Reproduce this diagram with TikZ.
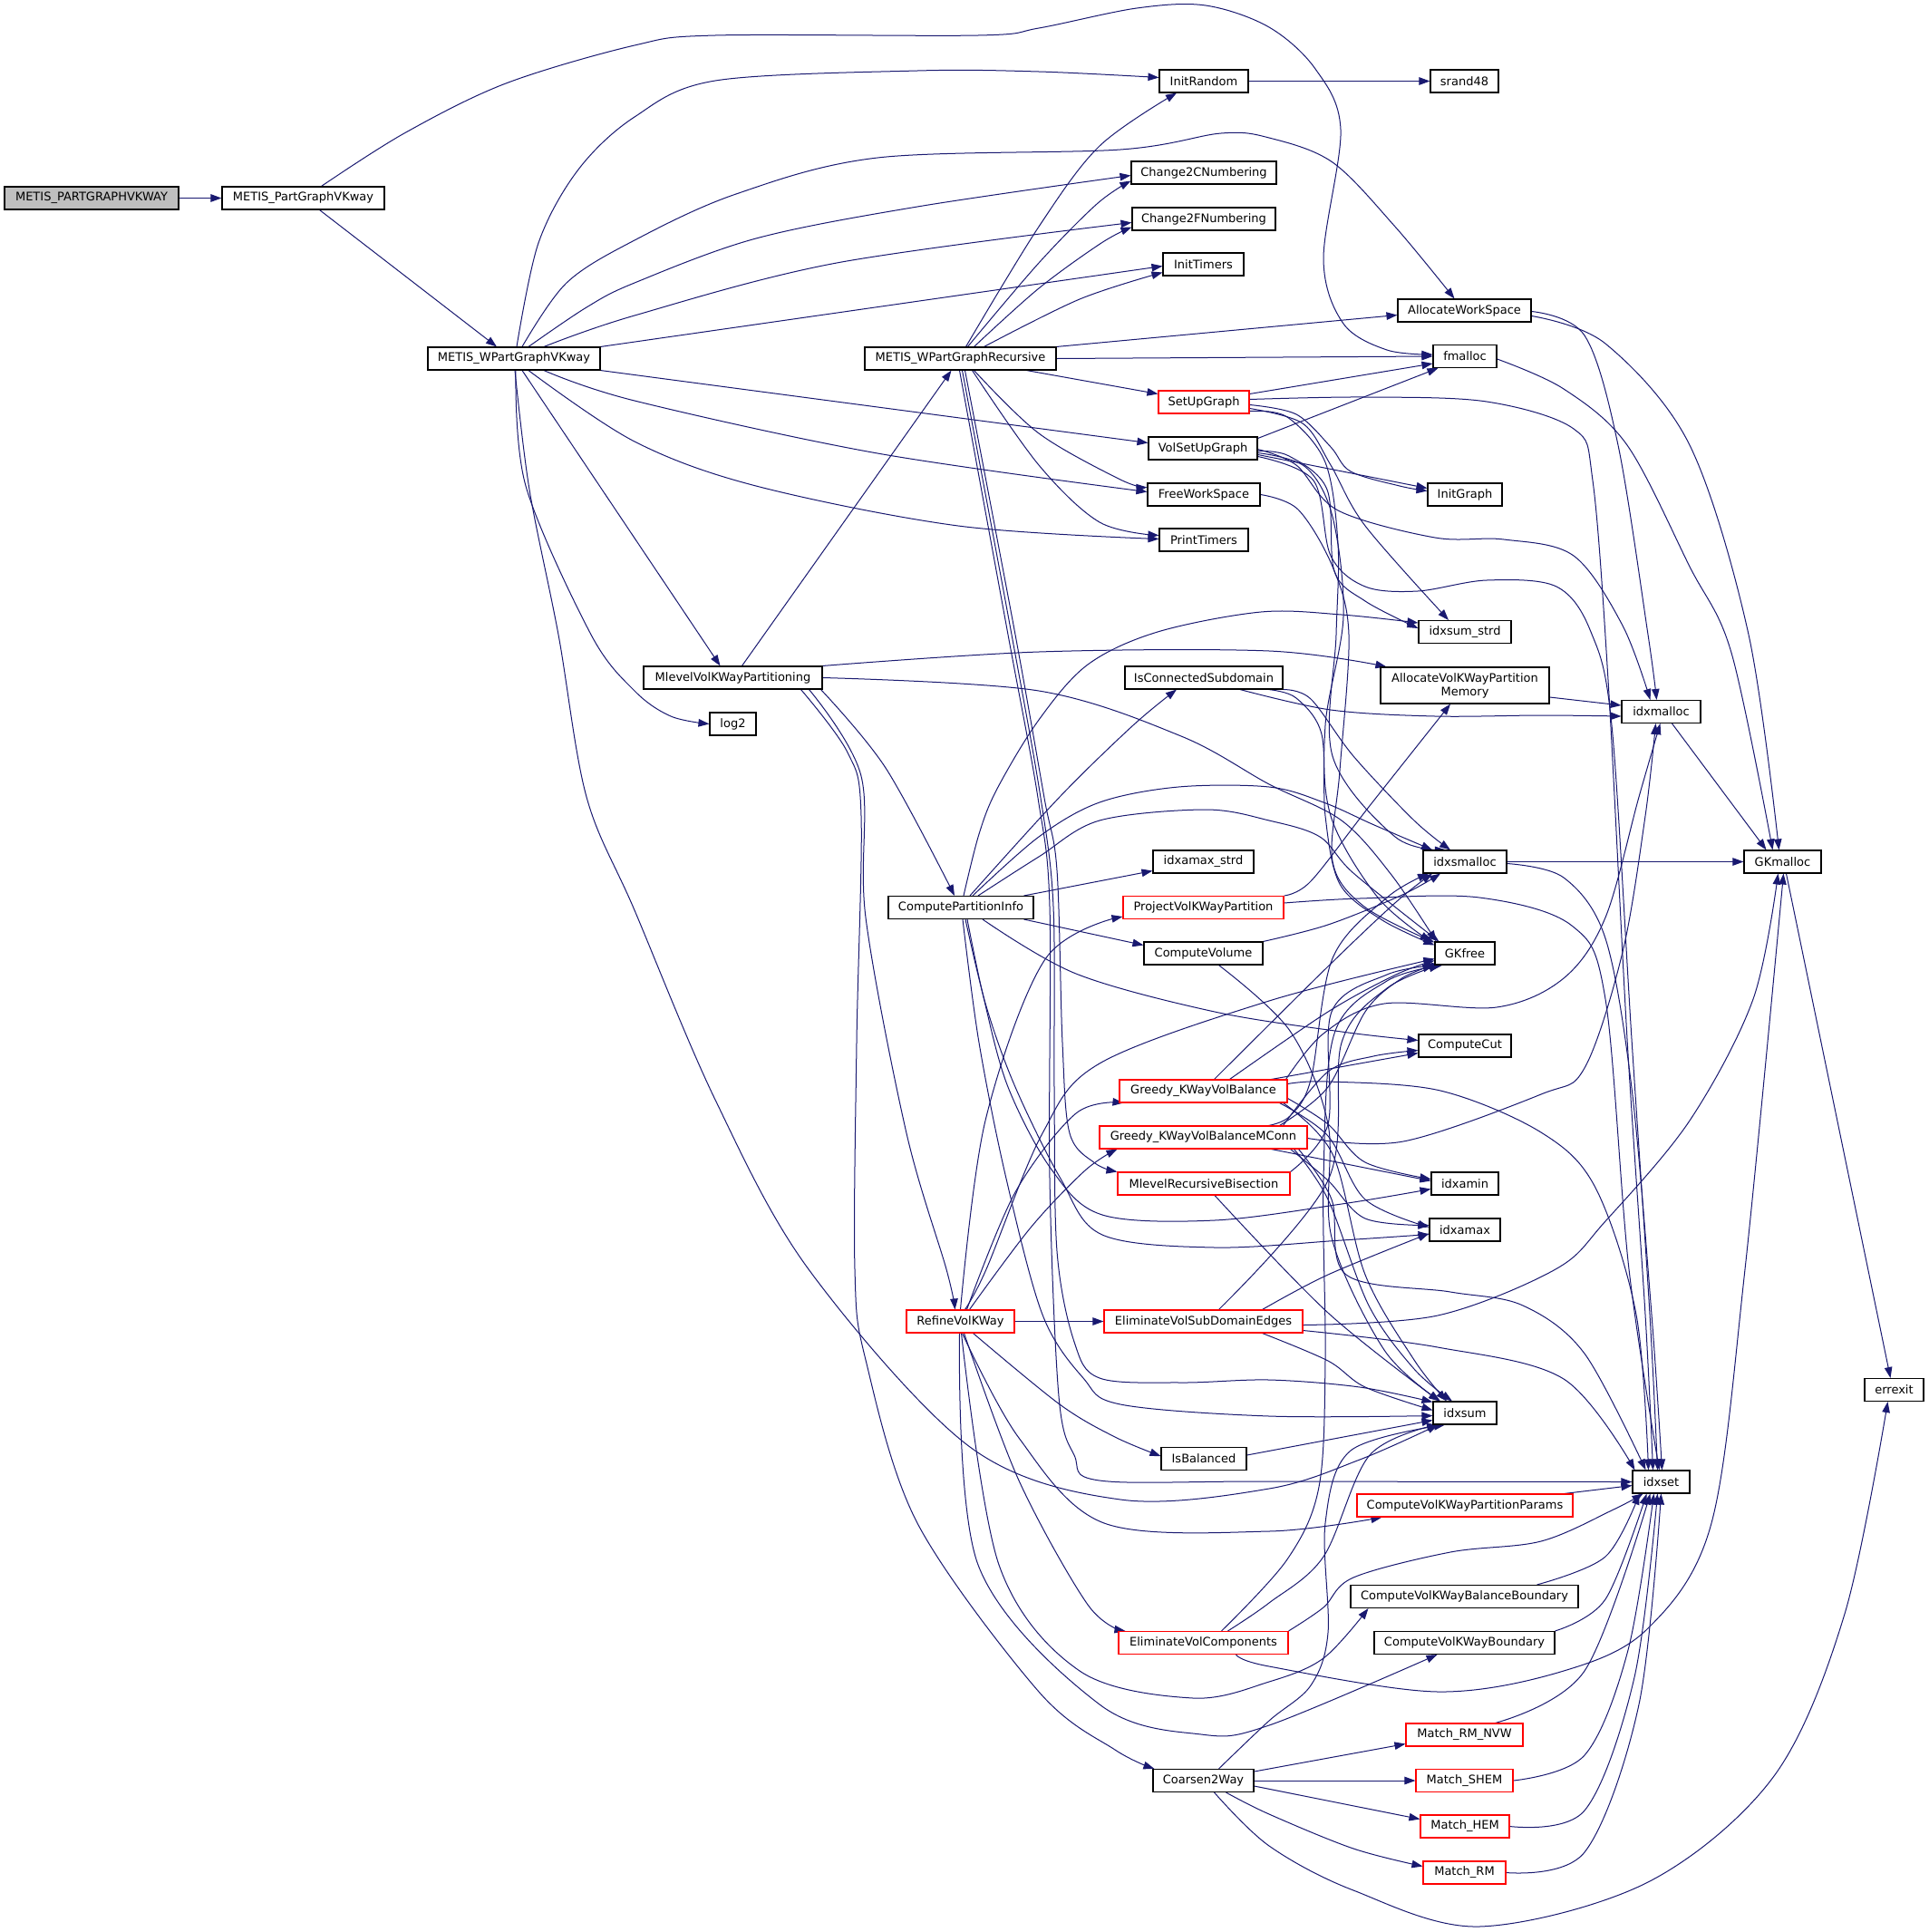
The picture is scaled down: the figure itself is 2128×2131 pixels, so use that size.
\documentclass[tikz,border=0pt]{standalone}
\usepackage{fontspec}
\setmainfont{DejaVu Sans}
\usetikzlibrary{arrows.meta}
\pgfdeclarelayer{background}
\pgfsetlayers{background,main}
\definecolor{edgec}{HTML}{191970}
\definecolor{redc}{HTML}{FF0000}
\definecolor{grayc}{HTML}{BFBFBF}
\tikzset{
  box/.style={draw=black, line width=1.1pt, fill=white, inner sep=0pt, minimum height=25pt,
    font=\fontsize{13}{15}\selectfont, align=center},
  rbox/.style={box, draw=redc},
  edge/.style={draw=edgec, line width=1pt, -{Triangle[length=12pt,width=8.5pt]}},
}
\newcommand\myedge[1]{\draw[edge] plot[smooth,tension=0.55] coordinates {#1};}
\begin{document}
\begin{tikzpicture}[x=1pt,y=-1pt]
\useasboundingbox (0,0) rectangle (2128,2131);
% nodes
\node[box, fill=grayc, minimum width=192pt] (n0) at (101,218.5) {METIS\_PARTGRAPHVKWAY};
\node[box, minimum width=179pt] (n1) at (334.5,218.5) {METIS\_PartGraphVKway};
\node[box, minimum width=190pt] (n2) at (567,395.5) {METIS\_WPartGraphVKway};
\node[box, minimum width=98pt] (initr) at (1328,89.5) {InitRandom};
\node[box, minimum width=75pt] (srand) at (1615.5,89.5) {srand48};
\node[box, minimum width=160pt] (c2c) at (1328,190.5) {Change2CNumbering};
\node[box, minimum width=158pt] (c2f) at (1328,241.5) {Change2FNumbering};
\node[box, minimum width=89pt] (inittm) at (1327.5,291.5) {InitTimers};
\node[box, minimum width=147pt] (aws) at (1615.5,342.5) {AllocateWorkSpace};
\node[box, minimum width=211pt] (rec) at (1059.5,395.5) {METIS\_WPartGraphRecursive};
\node[box, minimum width=70pt] (fmal) at (1616,393) {fmalloc};
\node[rbox, minimum width=100pt] (sug) at (1328,443.5) {SetUpGraph};
\node[box, minimum width=120pt] (vsug) at (1327,494.5) {VolSetUpGraph};
\node[box, minimum width=124pt] (fws) at (1328,545.5) {FreeWorkSpace};
\node[box, minimum width=82pt] (initg) at (1616,545.5) {InitGraph};
\node[box, minimum width=98pt] (prt) at (1328,595.5) {PrintTimers};
\node[box, minimum width=102pt] (isums) at (1616,697) {idxsum\_strd};
\node[box, minimum width=197pt] (mvk) at (808.5,747.5) {MlevelVolKWayPartitioning};
\node[box, minimum width=174pt] (icon) at (1328,747.5) {IsConnectedSubdomain};
\node[box, minimum width=186pt, minimum height=40pt] (avkpm) at (1616,756) {AllocateVolKWayPartition\\Memory};
\node[box, minimum width=87pt] (imal) at (1832.5,785) {idxmalloc};
\node[box, minimum width=51pt] (log2) at (808.5,798.5) {log2};
\node[box, minimum width=111pt] (iamaxs) at (1327.5,950.5) {idxamax\_strd};
\node[box, minimum width=92pt] (ismal) at (1616,950.5) {idxsmalloc};
\node[box, minimum width=85pt] (gkmal) at (1966.5,950.5) {GKmalloc};
\node[box, minimum width=160pt] (cpi) at (1060,1001) {ComputePartitionInfo};
\node[rbox, minimum width=177pt] (pvkp) at (1327.5,1001) {ProjectVolKWayPartition};
\node[box, minimum width=131pt] (cvol) at (1327.5,1051.5) {ComputeVolume};
\node[box, minimum width=66pt] (gkfree) at (1616,1051.5) {GKfree};
\node[box, minimum width=102pt] (ccut) at (1616,1153.5) {ComputeCut};
\node[rbox, minimum width=185pt] (gvb) at (1327.5,1203.5) {Greedy\_KWayVolBalance};
\node[rbox, minimum width=229pt] (gvbm) at (1327.5,1254.5) {Greedy\_KWayVolBalanceMConn};
\node[rbox, minimum width=190pt] (mrb) at (1328,1305.5) {MlevelRecursiveBisection};
\node[box, minimum width=74pt] (iamin) at (1616,1305.5) {idxamin};
\node[box, minimum width=78pt] (iamax) at (1616,1356.5) {idxamax};
\node[rbox, minimum width=119pt] (rvk) at (1059.5,1457.5) {RefineVolKWay};
\node[rbox, minimum width=219pt] (evsde) at (1327.5,1457.5) {EliminateVolSubDomainEdges};
\node[box, minimum width=65pt] (errexit) at (2089.5,1533) {errexit};
\node[box, minimum width=70pt] (isum) at (1616,1558.5) {idxsum};
\node[box, minimum width=94pt] (isbal) at (1328,1609) {IsBalanced};
\node[box, minimum width=63pt] (iset) at (1832.5,1634.5) {idxset};
\node[rbox, minimum width=238pt] (cvkpp) at (1616,1660.5) {ComputeVolKWayPartitionParams};
\node[box, minimum width=251pt] (cvkbb) at (1615.5,1761) {ComputeVolKWayBalanceBoundary};
\node[rbox, minimum width=187pt] (evc) at (1327.5,1812) {EliminateVolComponents};
\node[box, minimum width=199pt] (cvkb) at (1615.5,1812) {ComputeVolKWayBoundary};
\node[rbox, minimum width=129pt] (mnvw) at (1615.5,1913.5) {Match\_RM\_NVW};
\node[box, minimum width=111pt] (c2w) at (1327.5,1964) {Coarsen2Way};
\node[rbox, minimum width=107pt] (mshem) at (1615.5,1964) {Match\_SHEM};
\node[rbox, minimum width=98pt] (mhem) at (1616,2014.5) {Match\_HEM};
\node[rbox, minimum width=91pt] (mrm) at (1615.5,2065.5) {Match\_RM};

\begin{pgfonlayer}{background}
% top chain
\draw[edge] (n0.east) -- (n1.west);
\draw[edge] ([xshift=18pt]n1.south) -- ([xshift=-19pt]n2.north);
\myedge{([xshift=20pt]n1.north) (446,147) (558,92) (700,50) (789,39) (1079,39) (1146,31) (1254,9) (1330,6) (1400,30) (1451,76) (1479,143) (1460,286) (1482,357) (1530,386) ([yshift=2pt]fmal.west)}
% from METIS_WPartGraphVKway
\myedge{([xshift=3pt]n2.north) (594,268) (638,187) (700,129) (789,89) (1012,78) (1146,79) ([yshift=4pt]initr.west)}
\myedge{([xshift=9pt]n2.north) (625,312) (700,265) (812,214) (968,174) (1236,165) (1347,147) (1400,152) (1470,179) (1539,250) ([xshift=-11pt]aws.north)}
\myedge{([xshift=16pt]n2.north) (647,339) (700,312) (834,263) (1012,228) ([yshift=-3pt]c2c.west)}
\myedge{([xshift=33pt]n2.north) (700,348) (923,290) ([yshift=-4pt]c2f.west)}
\draw[edge] (n2.north east) -- ([yshift=-2pt]inittm.west);
\draw[edge] (n2.south east) -- ([yshift=6pt]vsug.west);
\myedge{([xshift=33pt]n2.south) (700,442) (968,500) ([yshift=3pt]fws.west)}
\myedge{([xshift=16pt]n2.south) (700,487) (834,536) (1057,580) ([yshift=1pt]prt.west)}
\draw[edge] ([xshift=9pt]n2.south) -- ([xshift=-14pt]mvk.north);
\myedge{([xshift=2pt]n2.south) (580,536) (652,700) (700,762) (740,790) (log2.west)}
\myedge{([xshift=1pt]n2.south) (584,540) (616,700) (647,879) (700,1004) (789,1213) (892,1400) (1070,1596) (1236,1654) (1400,1642) (1500,1610) ([xshift=6pt]isum.south west)}
% from METIS_WPartGraphRecursive
\myedge{([xshift=6pt]rec.north) (1146,250) (1213,161) ([xshift=-30pt]initr.south)}
\myedge{([xshift=8pt]rec.north) (1146,290) (1210,225) ([yshift=-9pt]c2c.west)}
\myedge{([xshift=15pt]rec.north) (1146,318) (1215,268) ([yshift=-9pt]c2f.west)}
\myedge{([xshift=26pt]rec.north) (1191,330) ([yshift=-9pt]inittm.west)}
\draw[edge] (rec.north east) -- ([yshift=-5pt]aws.west);
\draw[edge] (rec.east) -- (fmal.west);
\draw[edge] ([xshift=73pt]rec.south) -- ([yshift=9pt]sug.west);
\myedge{([xshift=15pt]rec.south) (1146,478) (1236,529) ([yshift=8pt]fws.west)}
\myedge{([xshift=13pt]rec.south) (1146,513) (1213,576) ([yshift=5pt]prt.west)}
\myedge{([xshift=5pt]rec.south) (1120,700) (1152,880) (1166,960) (1172,1150) (1180,1250) (1208,1283) (mrb.north west)}
\myedge{([xshift=2pt]rec.south) (1116,700) (1148,880) (1162,1000) (1163,1200) (1166,1380) (1185,1480) (1213,1520) (1303,1525) (1400,1522) (1500,1530) ([yshift=-1pt]isum.north west)}
\myedge{([xshift=-1pt]rec.south) (1112,700) (1145,880) (1158,1000) (1158,1300) (1168,1540) (1185,1605) (1213,1633) (1400,1634) (iset.west)}
% from MlevelVolKWayPartitioning
\draw[edge] ([xshift=10pt]mvk.north) -- ([xshift=-10pt]rec.south);
\myedge{(mvk.north east) (1146,719) (1400,718) ([xshift=7pt]avkpm.north west)}
\myedge{(mvk.east) (1146,762) (1303,812) (1400,865) (1480,905) (1535,965) ([xshift=2pt]gkfree.north west)}
\myedge{([xshift=-2pt]mvk.south east) (977,847) ([xshift=-7pt]cpi.north)}
\myedge{([xshift=-15pt]mvk.south east) (950,856) (955,1012) (1000,1250) (1044,1400) ([xshift=-6pt]rvk.north)}
\myedge{([xshift=-24pt]mvk.south east) (935,830) (950,900) (945,1150) (943,1400) (955,1500) (1012,1680) (1146,1866) (1230,1930) ([xshift=2pt]c2w.north west)}
% simple
\draw[edge] (initr.east) -- (srand.west);
\myedge{([yshift=-1pt]aws.east) (1748,370) (1785,491) (1818,700) ([xshift=-5pt]imal.north)}
\myedge{([yshift=-6pt]aws.east) (1771,379) (1864,491) (1929,700) ([xshift=-4pt]gkmal.north)}
\myedge{([yshift=-3pt]fmal.east) (1725,429) (1795,491) (1864,625) (1910,720) ([xshift=-11pt]gkmal.north)}
% SetUpGraph
\draw[edge] ([yshift=9pt]sug.east) -- ([yshift=-8pt]fmal.west);
\myedge{([yshift=-3pt]sug.east) (1430,457) (1468,493) (1490,520) (1544,536) ([yshift=4pt]initg.west)}
\myedge{([yshift=-7pt]sug.east) (1437,467) (1468,513) (1506,580) ([xshift=-18pt]isums.north)}
\myedge{([yshift=3pt]sug.east) (1506,438) (1640,443) (1736,473) (1757,530) (1774,750) (1795,1146) (1815,1450) ([xshift=-9pt]iset.north)}
\myedge{([yshift=-10pt]sug.east) (1420,460) (1462,510) (1476,600) (1474,700) (1470,834) (1539,923) ([xshift=-21pt]ismal.north)}
% VolSetUpGraph
\draw[edge] ([yshift=11pt]vsug.east) -- ([xshift=6pt]fmal.south west);
\draw[edge] ([yshift=-7pt]vsug.east) -- ([yshift=7pt]initg.west);
\myedge{([yshift=-3pt]vsug.east) (1422,503) (1464,540) (1472,630) (1506,663) ([yshift=4pt]isums.west)}
\myedge{([yshift=-1pt]vsug.east) (1430,513) (1476,563) (1583,593) (1659,595) (1736,613) (1790,690) ([xshift=-12pt]imal.north)}
\myedge{([yshift=-9pt]vsug.east) (1449,530) (1468,613) (1506,647) (1564,652) (1640,640) (1717,647) (1755,697) (1778,800) (1800,1146) (1820,1450) ([xshift=-4pt]iset.north)}
\myedge{([yshift=-5pt]vsug.east) (1440,515) (1470,570) (1482,680) (1462,800) (1468,900) (1520,990) ([xshift=-4pt]gkfree.north west)}
% FreeWorkSpace
\myedge{(fws.east) (1432,562) (1470,625) (1488,700) (1478,850) (1470,950) (1505,1000) ([yshift=-1pt]gkfree.north west)}
% IsConnectedSubdomain
\myedge{([xshift=40pt]icon.south) (1468,783) (1583,790) (1700,789) ([yshift=-5pt]imal.west)}
\myedge{(icon.south east) (1446,771) (1493,834) (1560,905) ([xshift=-16pt]ismal.north)}
\myedge{([xshift=-16pt]icon.south east) (1430,770) (1458,810) (1462,900) (1478,975) (1525,1015) ([yshift=-4pt]gkfree.north west)}
% memory
\draw[edge] ([yshift=-13pt]avkpm.east) -- ([yshift=7pt]imal.west);
\draw[edge] ([xshift=12pt]imal.south) -- ([xshift=-18pt]gkmal.north);
\draw[edge] (ismal.east) -- (gkmal.west);
\myedge{([yshift=-2pt]ismal.east) (1725,968) (1771,1035) (1800,1200) (1822,1450) ([xshift=1pt]iset.north)}
\draw[edge] ([xshift=4pt]gkmal.south) -- ([xshift=-4pt]errexit.north);
% ComputePartitionInfo
\myedge{([xshift=3pt]cpi.north) (1080,920) (1100,870) (1146,794) (1200,733) (1277,697) (1391,675) (1480,678) ([yshift=10pt]isums.west)}
\myedge{([xshift=10pt]cpi.north) (1169,879) (1250,800) ([xshift=-30pt]icon.south)}
\myedge{([xshift=13pt]cpi.north) (1146,923) (1213,885) (1300,868) (1400,868) (1460,885) (1516,910) ([xshift=-36pt]ismal.north)}
\myedge{([xshift=19pt]cpi.north) (1146,945) (1213,905) (1330,893) (1400,905) (1456,923) (1493,963) ([xshift=5pt]gkfree.north west)}
\draw[edge] ([xshift=-11pt]cpi.north east) -- ([yshift=-10pt]iamaxs.west);
\draw[edge] ([xshift=-11pt]cpi.south east) -- ([yshift=9pt]cvol.west);
\myedge{([xshift=24pt]cpi.south) (1187,1074) (1340,1116) (1480,1138) ([yshift=6pt]ccut.west)}
\myedge{([xshift=7pt]cpi.south) (1085,1100) (1112,1199) (1160,1290) (1216,1340) (1340,1346) (1480,1328) ([yshift=-6pt]iamin.west)}
\myedge{([xshift=5pt]cpi.south) (1088,1110) (1120,1199) (1170,1300) (1216,1362) (1340,1376) (1480,1368) ([yshift=-5pt]iamax.west)}
\myedge{([xshift=2pt]cpi.south) (1080,1150) (1110,1300) (1150,1450) (1195,1520) (1236,1549) (1400,1562) ([yshift=-3pt]isum.west)}
% ProjectVolKWayPartition
\myedge{(pvkp.north east) (1446,972) (1510,890) ([xshift=-16pt]avkpm.south)}
\myedge{([yshift=5pt]pvkp.east) (1500,991) (1632,990) (1734,1021) (1771,1102) (1797,1400) ([xshift=-2pt]iset.north)}
% ComputeVolume
\myedge{(cvol.north east) (1465,1020) (1547,987) ([xshift=-27pt]ismal.south)}
\myedge{([xshift=17pt]cvol.south) (1423,1137) (1465,1240) (1469,1365) (1527,1489) ([xshift=-27pt]isum.north)}
% Greedy_KWayVolBalance
\myedge{([xshift=12pt]gvb.north) (1465,1066) (1540,995) ([xshift=-36pt]ismal.south)}
\myedge{([xshift=29pt]gvb.north) (1465,1116) (1540,1075) ([yshift=-8pt]gkfree.west)}
\draw[edge] ([xshift=-18pt]gvb.north east) -- ([yshift=-8pt]ccut.west);
\myedge{([yshift=8pt]gvb.east) (1465,1193) (1589,1203) (1700,1249) (1760,1310) (1805,1450) ([xshift=-14pt]iset.north)}
\myedge{([yshift=-8pt]gvb.east) (1465,1240) (1506,1282) ([yshift=5pt]iamin.west)}
\myedge{([xshift=-9pt]gvb.south east) (1465,1253) (1506,1323) ([yshift=3pt]iamax.west)}
\myedge{([xshift=-5pt]gvb.south east) (1470,1273) (1506,1406) (1560,1500) ([xshift=-20pt]isum.north)}
\myedge{([xshift=-2pt]gvb.north east) (1460,1140) (1527,1107) (1651,1111) (1725,1079) (1771,1012) (1808,879) ([xshift=-1pt]imal.south)}
% Greedy_KWayVolBalanceMConn
\myedge{([xshift=84pt]gvbm.north) (1465,1199) (1506,1116) (1545,1080) ([xshift=-1pt]gkfree.south west)}
\myedge{([xshift=88pt]gvbm.north) (1465,1182) (1515,1165) ([yshift=-5pt]ccut.west)}
\myedge{([xshift=72pt]gvbm.north) (1423,1231) (1446,1191) (1470,1057) (1530,990) ([xshift=-40pt]ismal.south)}
\myedge{([yshift=-1pt]gvbm.east) (1548,1259) (1700,1207) (1748,1178) (1790,1050) (1815,900) ([xshift=-6pt]imal.south)}
\draw[edge] ([xshift=-40pt]gvbm.south east) -- ([yshift=3pt]iamin.west);
\myedge{([xshift=-19pt]gvbm.south east) (1465,1302) (1506,1344) ([yshift=5pt]iamax.west)}
\myedge{([xshift=-15pt]gvbm.south east) (1465,1323) (1510,1440) (1560,1510) ([xshift=-14pt]isum.north)}
\myedge{([xshift=-10pt]gvbm.south east) (1469,1323) (1485,1406) (1600,1425) (1680,1440) (1748,1493) ([xshift=-17pt]iset.north)}
% MlevelRecursiveBisection
\myedge{(mrb.north east) (1465,1240) (1469,1116) (1530,1075) ([xshift=3pt]gkfree.south west)}
\myedge{([xshift=12pt]mrb.south) (1465,1448) ([xshift=-28pt]isum.north)}
% EliminateVolSubDomainEdges
\myedge{([xshift=17pt]evsde.north) (1465,1302) (1480,1150) (1530,1090) ([xshift=6pt]gkfree.south west)}
\myedge{([xshift=-45pt]evsde.north east) (1465,1406) ([yshift=-4pt]iamax.west)}
\myedge{([yshift=-4pt]evsde.east) (1586,1451) (1716,1400) (1771,1347) (1864,1236) (1934,1102) ([xshift=-5pt]gkmal.south)}
\myedge{([yshift=-10pt]evsde.east) (1586,1486) (1725,1521) ([xshift=3pt]iset.north west)}
\myedge{([xshift=-45pt]evsde.south east) (1465,1501) (1506,1530) ([yshift=3pt]isum.west)}
% RefineVolKWay
\draw[edge] (rvk.east) -- (evsde.west);
\myedge{(rvk.north) (1087,1236) (1153,1058) ([yshift=-10pt]pvkp.west)}
\myedge{([xshift=5pt]rvk.north) (1088,1400) (1150,1250) (1213,1173) (1400,1104) ([yshift=-6pt]gkfree.west)}
\myedge{([xshift=7pt]rvk.north) (1120,1315) (1187,1228) ([xshift=5pt]gvb.south west)}
\myedge{([xshift=10pt]rvk.north) (1137,1354) (1197,1291) ([xshift=20pt]gvbm.south west)}
\myedge{([xshift=14pt]rvk.south) (1169,1549) (1230,1585) ([yshift=3pt]isbal.west)}
\myedge{([xshift=2pt]rvk.south) (1124,1586) (1218,1680) (1400,1689) ([xshift=28pt]cvkpp.south west)}
\myedge{([xshift=4pt]rvk.south) (1124,1633) (1200,1770) ([xshift=8pt]evc.north west)}
\myedge{([xshift=1pt]rvk.south) (1102,1726) (1191,1843) (1316,1873) (1400,1855) (1460,1829) ([xshift=20pt]cvkbb.south west)}
\myedge{([xshift=-1pt]rvk.south) (1079,1726) (1213,1880) (1325,1913) (1400,1903) ([xshift=-30pt]cvkb.south)}
% misc to idxsum / idxset
\draw[edge] ([yshift=4pt]isbal.east) -- ([yshift=-8pt]isum.west);
\draw[edge] ([xshift=-10pt]cvkpp.north east) -- ([yshift=-4pt]iset.west);
\myedge{([xshift=-46pt]cvkbb.north east) (1771,1717) ([xshift=-24pt]iset.south)}
\myedge{(cvkb.north east) (1771,1764) ([xshift=-16pt]iset.south)}
% EliminateVolComponents
\myedge{([xshift=27pt]evc.north) (1400,1768) (1460,1717) (1511,1605) ([xshift=-30pt]isum.south)}
\myedge{(evc.north east) (1460,1773) (1493,1740) (1600,1712) (1700,1700) (1780,1665) ([xshift=-20pt]iset.south)}
\myedge{([xshift=-58pt]evc.south east) (1400,1838) (1586,1866) (1725,1843) (1818,1796) (1888,1680) (1925,1400) ([xshift=1pt]gkmal.south)}
\myedge{([xshift=20pt]evc.north) (1420,1720) (1455,1640) (1462,1500) (1460,1300) (1472,1140) (1530,1082) ([xshift=9pt]gkfree.south west)}
% Coarsen2Way
\myedge{([xshift=17pt]c2w.north) (1400,1898) (1446,1859) (1465,1801) (1462,1680) (1490,1600) ([xshift=-22pt]isum.south)}
\draw[edge] ([yshift=10pt]c2w.east) -- ([yshift=-10pt]mnvw.west);
\draw[edge] (c2w.east) -- (mshem.west);
\draw[edge] ([yshift=-6pt]c2w.east) -- ([yshift=8pt]mhem.west);
\myedge{([xshift=25pt]c2w.south) (1400,2001) (1493,2039) ([yshift=7pt]mrm.west)}
\myedge{([xshift=12pt]c2w.south) (1400,2036) (1493,2085) (1632,2125) (1818,2076) (1957,1959) (2035,1780) ([xshift=-7pt]errexit.south)}
% Match_* to idxset
\myedge{([xshift=34pt]mnvw.north) (1748,1843) ([xshift=-12pt]iset.south)}
\myedge{(mshem.east) (1748,1936) (1796,1820) ([xshift=-8pt]iset.south)}
\myedge{(mhem.east) (1748,1997) (1803,1850) ([xshift=-4pt]iset.south)}
\myedge{(mrm.east) (1748,2043) (1808,1880) (iset.south)}
\end{pgfonlayer}
\end{tikzpicture}
\end{document}
